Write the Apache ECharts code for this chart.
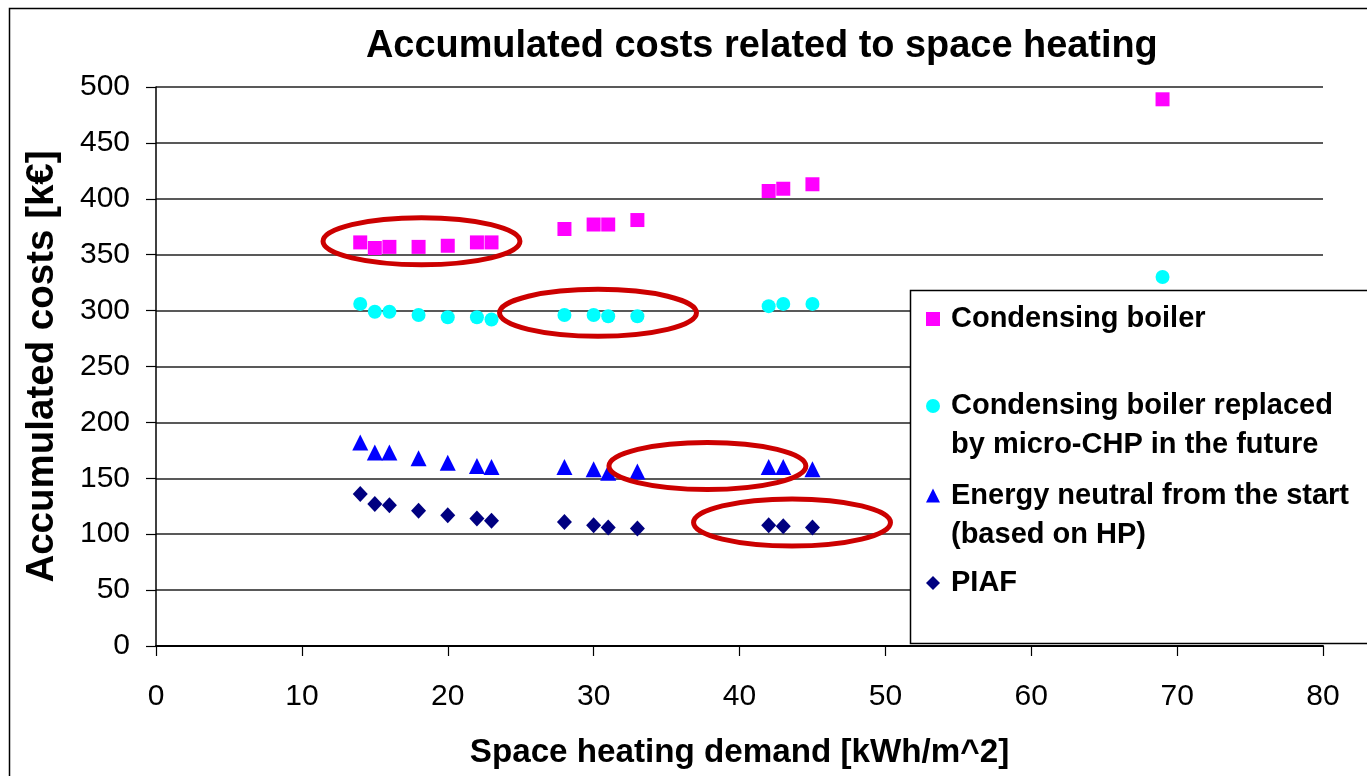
<!DOCTYPE html>
<html>
<head>
<meta charset="utf-8">
<title>Accumulated costs related to space heating</title>
<script src="https://cdn.jsdelivr.net/npm/echarts@6/dist/echarts.min.js"></script>
<style>
  html, body { margin: 0; padding: 0; background: #fff; }
  #chart { width: 1367px; height: 776px; }
</style>
</head>
<body>
<div id="chart"></div>
<script>
// space heating demand [kWh/m^2]
const heatDemand = [14, 15, 16, 18, 20, 22, 23, 28, 30, 31, 33, 42, 43, 45, 69];
// accumulated costs [k€]
const condensingBoiler = [361, 356, 357, 357, 358, 361, 361, 373, 377, 377, 381, 407, 409, 413, 489];
const microChp = [306, 299, 299, 296, 294, 294, 292, 296, 296, 295, 295, 304, 306, 306, 330];
const energyNeutral = [182, 173, 173, 168, 164, 161, 160, 160, 158, 155, 156, 160, 160, 158];
const piaf = [136, 127, 126, 121, 117, 114, 112, 111, 108, 106, 105, 108, 107, 106];

const seriesNames = [
  'Condensing boiler',
  'Condensing boiler replaced\nby micro-CHP in the future',
  'Energy neutral from the start\n(based on HP)',
  'PIAF'
];
const yTicks = [0, 500, 50];
const xTicks = [0, 80, 10];

// red ellipses drawn on the chart: [centre x, centre y, half width x, half height y]
const highlights = [
  [18.2, 362, 6.75, 21],
  [30.3, 298, 6.75, 21],
  [37.8, 161, 6.75, 21],
  [43.6, 110.5, 6.75, 21]
];

const font = "'Liberation Sans', Arial, sans-serif";

function pairs(xs, ys) {
  return ys.map((y, i) => [xs[i], y]);
}

let myChart = echarts.init(document.getElementById('chart'), null, { renderer: 'canvas' });

let legendLine = 39;
// one legend per series so each entry sits where Excel put it;
// two-line entries get an empty first line so the marker lines up with the first text line
function legendFor(name, top, twoLines) {
  return {
    data: [{ name: name }],
    formatter: (n) => (twoLines ? '\n' + n : n),
    orient: 'vertical',
    left: 926,
    top: top,
    padding: 0,
    itemWidth: 14,
    itemHeight: 14,
    selectedMode: false,
    z: 20,
    textStyle: {
      fontFamily: font,
      fontSize: 29,
      fontWeight: 'bold',
      color: '#000',
      lineHeight: legendLine,
      padding: [0, 0, 0, 6]
    }
  };
}

let option = {
  backgroundColor: '#fff',
  animation: false,
  title: {
    text: 'Accumulated costs related to space heating',
    left: 366,
    top: 28,
    padding: 0,
    textStyle: { fontFamily: font, fontSize: 37.9, fontWeight: 'bold', color: '#000' }
  },
  grid: { left: 156, right: 44, top: 87, bottom: 130, containLabel: false },
  legend: [
    legendFor(seriesNames[0], 299.5, false),
    legendFor(seriesNames[1], 347.5, true),
    legendFor(seriesNames[2], 437, true),
    legendFor(seriesNames[3], 563.5, false)
  ],
  xAxis: {
    type: 'value',
    min: xTicks[0],
    max: xTicks[1],
    interval: xTicks[2],
    name: 'Space heating demand [kWh/m^2]',
    nameLocation: 'middle',
    nameGap: 90,
    nameTextStyle: { fontFamily: font, fontSize: 33.2, fontWeight: 'bold', color: '#000' },
    axisLine: { show: true, lineStyle: { color: '#000', width: 2 } },
    axisTick: { show: true, length: 10, lineStyle: { color: '#000', width: 1.2 } },
    axisLabel: { margin: 36, fontFamily: font, fontSize: 30, color: '#000' },
    splitLine: { show: false }
  },
  yAxis: {
    type: 'value',
    min: yTicks[0],
    max: yTicks[1],
    interval: yTicks[2],
    name: 'Accumulated costs [k€]',
    nameLocation: 'middle',
    nameGap: 94,
    nameTextStyle: { fontFamily: font, fontSize: 38.5, fontWeight: 'bold', color: '#000' },
    axisLine: { show: true, lineStyle: { color: '#000', width: 1.5 } },
    axisTick: { show: true, length: 10, lineStyle: { color: '#000', width: 1.2 } },
    axisLabel: { margin: 26, fontFamily: font, fontSize: 30, color: '#000' },
    splitLine: { show: true, lineStyle: { color: '#222', width: 1.6 } }
  },
  series: [
    {
      name: seriesNames[0],
      type: 'scatter',
      symbol: 'rect',
      symbolSize: 14,
      itemStyle: { color: '#ff00ff', opacity: 1 },
      data: pairs(heatDemand, condensingBoiler)
    },
    {
      name: seriesNames[1],
      type: 'scatter',
      symbol: 'circle',
      symbolSize: 14,
      itemStyle: { color: '#00ffff', opacity: 1 },
      data: pairs(heatDemand, microChp)
    },
    {
      name: seriesNames[2],
      type: 'scatter',
      symbol: 'triangle',
      symbolSize: 16,
      itemStyle: { color: '#0000ff', opacity: 1 },
      data: pairs(heatDemand, energyNeutral)
    },
    {
      name: seriesNames[3],
      type: 'scatter',
      symbol: 'diamond',
      symbolSize: [15, 16],
      itemStyle: { color: '#000080', opacity: 1 },
      data: pairs(heatDemand, piaf)
    }
  ]
};

option && myChart.setOption(option);

// frame, legend box and the red ellipses, placed through the axes
let graphics = [
  {
    type: 'rect', id: 'frame', z: 30, silent: true,
    shape: { x: 9.5, y: 8.5, width: 1400, height: 800 },
    style: { fill: null, stroke: '#000', lineWidth: 1.5 }
  },
  {
    type: 'rect', id: 'legendBox', z: 5, silent: true,
    shape: { x: 910.5, y: 290.5, width: 500, height: 353 },
    style: { fill: '#fff', stroke: '#000', lineWidth: 1.5 }
  }
];
highlights.forEach((h, i) => {
  let c = myChart.convertToPixel({ gridIndex: 0 }, [h[0], h[1]]);
  let e = myChart.convertToPixel({ gridIndex: 0 }, [h[0] + h[2], h[1] + h[3]]);
  graphics.push({
    type: 'ellipse', id: 'hl' + i, z: 8, silent: true,
    shape: { cx: c[0], cy: c[1], rx: Math.abs(e[0] - c[0]), ry: Math.abs(c[1] - e[1]) },
    style: { fill: null, stroke: '#cc0000', lineWidth: 5 }
  });
});
myChart.setOption({ graphic: graphics });
</script>
</body>
</html>
